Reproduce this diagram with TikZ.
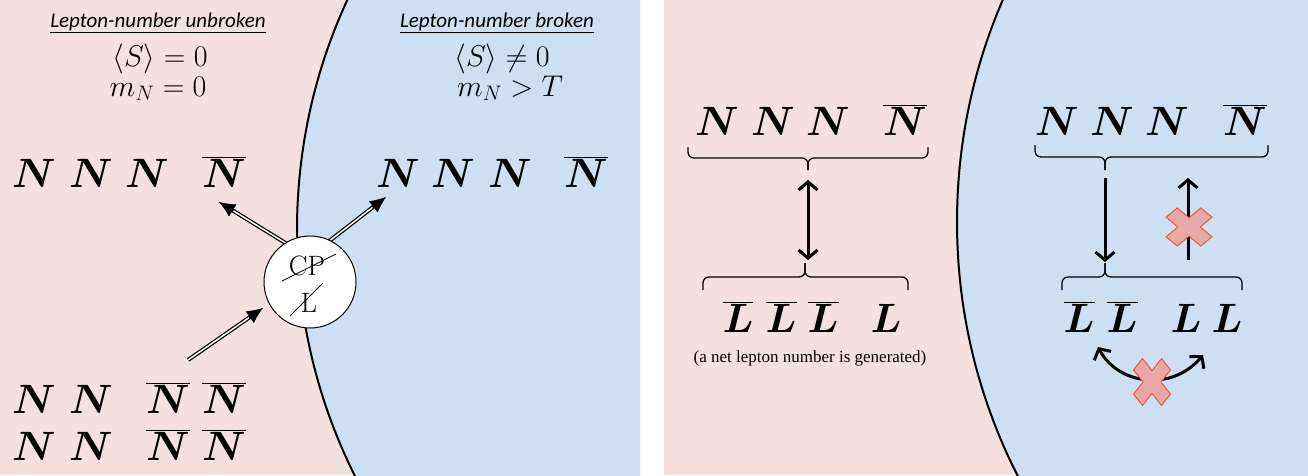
\RequirePackage{fix-cm}
\documentclass[tikz,border=0pt]{standalone}
\usepackage{fontspec}
\usepackage{bm}
\usetikzlibrary{arrows.meta}
\newfontfamily\hdrfont{Carlito}
\newfontfamily\notefont{Liberation Serif}
\definecolor{pinkbg}{RGB}{242,225,223}
\definecolor{bluebg}{RGB}{206,223,241}
\definecolor{xfill}{RGB}{232,168,165}
\definecolor{xline}{RGB}{238,80,50}
\tikzset{
  hdr/.style={anchor=base,inner sep=0pt,font=\hdrfont\itshape\fontsize{21}{25}\selectfont},
  mth/.style={anchor=base,inner sep=0pt,font=\fontsize{30}{34}\selectfont},
  nn/.style={anchor=base,inner sep=0pt,font=\fontsize{41}{48}\selectfont},
  cpt/.style={anchor=base,inner sep=0pt,font=\fontsize{28}{32}\selectfont},
  note/.style={anchor=center,inner sep=0pt,font=\notefont\fontsize{17}{20}\selectfont},
  dblout/.style={line width=4pt,-{Latex[length=16pt,width=14pt,line width=0.4pt]}},
  dblin/.style={white,line width=1.5pt,shorten >=17pt},
  tarrow/.style={line width=3pt,-{Straight Barb[length=8pt,width=19pt]}},
  tarrows/.style={line width=3pt,{Straight Barb[length=8pt,width=19pt]}-{Straight Barb[length=8pt,width=19pt]}},
  bracep/.style={line width=1.3pt,rounded corners=6pt},
  edge/.style={line width=2pt},
  xmark/.pic={\draw[fill=xfill,draw=xline,line width=0.9pt,rotate=45]
     (0.32,1)--(0.32,0.32)--(1,0.32)--(1,-0.32)--(0.32,-0.32)--(0.32,-1)--(-0.32,-1)--(-0.32,-0.32)--(-1,-0.32)--(-1,0.32)--(-0.32,0.32)--(-0.32,1)--cycle;}
}
\begin{document}
\begin{tikzpicture}[x=1pt,y=-1pt]
\useasboundingbox (0,0) rectangle (1308,475);
% ---------- left panel background
\fill[pinkbg] (0,0) rectangle (640,475);
\begin{scope}
  \clip (0,0) rectangle (640,475);
  \fill[bluebg] (847,230) circle (550);
  \draw[edge] (847,230) circle (550);
\end{scope}
% ---------- right panel background
\fill[pinkbg] (664,0) rectangle (1308,475);
\begin{scope}
  \clip (664,0) rectangle (1308,475);
  \fill[bluebg] (1517,222) circle (560);
  \draw[edge] (1517,222) circle (560);
\end{scope}
% ---------- left panel texts
\node[hdr] (h1) at (158,27) {\underline{Lepton-number unbroken}};
\node[hdr] (h2) at (497,27) {\underline{Lepton-number broken}};
\node[mth] (s1) at (160,66) {$\langle S\rangle = 0$};
\node[mth] (m1) at (158,96) {$m_N = 0$};
\node[mth] (s2) at (502,66) {$\langle S\rangle \neq 0$};
\node[mth] (m2) at (510,96) {$m_N > T$};
% top-left N's
\node[nn] (a1) at (34,187) {$\bm{N}$};
\node[nn] (a2) at (91,187) {$\bm{N}$};
\node[nn] (a3) at (147,187) {$\bm{N}$};
\node[nn] (a4) at (224,187) {$\overline{\bm{N}}$};
% top-right N's
\node[nn] (b1) at (398,187) {$\bm{N}$};
\node[nn] (b2) at (453,187) {$\bm{N}$};
\node[nn] (b3) at (510,187) {$\bm{N}$};
\node[nn] (b4) at (586,187) {$\overline{\bm{N}}$};
% bottom-left N's
\node[nn] (c1) at (34,413) {$\bm{N}$};
\node[nn] (c2) at (91,413) {$\bm{N}$};
\node[nn] (c3) at (168,413) {$\overline{\bm{N}}$};
\node[nn] (c4) at (224,413) {$\overline{\bm{N}}$};
\node[nn] (d1) at (34,460) {$\bm{N}$};
\node[nn] (d2) at (91,460) {$\bm{N}$};
\node[nn] (d3) at (168,460) {$\overline{\bm{N}}$};
\node[nn] (d4) at (224,460) {$\overline{\bm{N}}$};
% arrows
\coordinate (o1) at (292,247);
\coordinate (t1) at (219,202);
\coordinate (o2) at (328,242);
\coordinate (t2) at (386,197);
\coordinate (o3) at (188,360);
\coordinate (t3) at (263,308);
\draw[dblout] (o1) -- (t1); \draw[dblin] (o1) -- (t1);
\draw[dblout] (o2) -- (t2); \draw[dblin] (o2) -- (t2);
\draw[dblout] (o3) -- (t3); \draw[dblin] (o3) -- (t3);
% circle
\node[circle,draw,fill=white,line width=1pt,minimum size=92pt,inner sep=0pt] (cp) at (310,282) {};
\node[cpt] (cpa) at (307,275) {CP};
\node[cpt] (cpl) at (309,312) {L};
\draw[line width=0.8pt] (282,281) -- (336,254);
\draw[line width=0.8pt] (290,316) -- (323,283);
% ---------- right panel, left group
\node[nn] (e1) at (717,135) {$\bm{N}$};
\node[nn] (e2) at (773,135) {$\bm{N}$};
\node[nn] (e3) at (828,135) {$\bm{N}$};
\node[nn] (e4) at (905,135) {$\overline{\bm{N}}$};
\draw[bracep] (688,147) -- (688,158) -- (808,158) -- (808,170);
\draw[bracep] (928,147) -- (928,158) -- (808,158) -- (808,170);
\coordinate (u1) at (808,180);
\coordinate (u2) at (808,260);
\draw[tarrows] (u1) -- (u2);
\draw[bracep] (703,290) -- (703,277) -- (805,277) -- (805,263);
\draw[bracep] (908,290) -- (908,277) -- (805,277) -- (805,263);
\node[nn] (f1) at (738,332) {$\overline{\bm{L}}$};
\node[nn] (f2) at (781,332) {$\overline{\bm{L}}$};
\node[nn] (f3) at (823,332) {$\overline{\bm{L}}$};
\node[nn] (f4) at (886,332) {$\bm{L}$};
\node[note] (nt) at (810,358) {(a net lepton number is generated)};
% ---------- right panel, right group
\node[nn] (g1) at (1057,135) {$\bm{N}$};
\node[nn] (g2) at (1112,135) {$\bm{N}$};
\node[nn] (g3) at (1167,135) {$\bm{N}$};
\node[nn] (g4) at (1245,135) {$\overline{\bm{N}}$};
\draw[bracep] (1035,145) -- (1035,157) -- (1105,157) -- (1105,170);
\draw[bracep] (1268,145) -- (1268,157) -- (1105,157) -- (1105,170);
\coordinate (v1) at (1105,178);
\coordinate (v2) at (1105,262);
\draw[tarrow] (v1) -- (v2);
\coordinate (w1) at (1188,260);
\coordinate (w2) at (1188,178);
\draw[tarrow] (w1) -- (w2);
\draw[bracep] (1062,290) -- (1062,277) -- (1105,277) -- (1105,263);
\draw[bracep] (1242,290) -- (1242,277) -- (1105,277) -- (1105,263);
\node[nn] (k1) at (1079,332) {$\overline{\bm{L}}$};
\node[nn] (k2) at (1122,332) {$\overline{\bm{L}}$};
\node[nn] (k3) at (1186,332) {$\bm{L}$};
\node[nn] (k4) at (1227,332) {$\bm{L}$};
\coordinate (q1) at (1098,347);
\coordinate (q2) at (1203,355);
\draw[tarrows] (q1) .. controls (1118,385) and (1172,392) .. (q2);
\pic[xscale=24.6,yscale=20.4] at (1189,227) {xmark};
\pic[xscale=19.8,yscale=25.2] at (1152,382) {xmark};
\end{tikzpicture}
\end{document}
